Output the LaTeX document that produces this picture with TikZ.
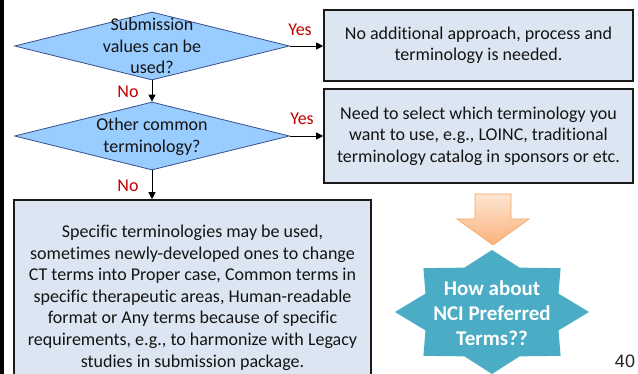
\documentclass[tikz,border=0pt]{standalone}
\usepackage{fontspec}
\setmainfont{Carlito}[Ligatures=NoCommon]
\newfontfamily\pagenumfont{Liberation Sans}
\usetikzlibrary{shapes.geometric,arrows.meta,calc}

\definecolor{decfill}{HTML}{99CCFF}
\definecolor{decline}{HTML}{34508A}
\definecolor{boxfill}{HTML}{DCE6F2}
\definecolor{boxline}{HTML}{1A1A1A}
\definecolor{labred}{HTML}{C00000}
\definecolor{sealfill}{HTML}{4BACC6}
\definecolor{arrtop}{HTML}{FDE5D2}
\definecolor{arrbot}{HTML}{F9B27B}
\definecolor{arrline}{HTML}{F5A865}
\definecolor{txt}{HTML}{141414}

\begin{document}
\begin{tikzpicture}[x=1pt,y=-1pt,
  every node/.style={font=\fontsize{18}{21.6}\selectfont, text=txt},
  decision/.style={diamond, draw=decline, line width=0.8pt, fill=decfill,
    inner sep=0pt, minimum width=275pt, minimum height=68pt},
  qtext/.style={align=center, inner sep=0pt},
  infobox/.style={rectangle, draw=boxline, line width=1.6pt, fill=boxfill,
    align=center, inner sep=0pt},
  answer/.style={text=labred, inner sep=0pt},
  flow/.style={draw=black, line width=0.9pt, -{Triangle[length=7pt,width=7pt]}},
  sealtext/.style={font=\fontsize{21}{25}\selectfont\bfseries, text=white,
    align=center, inner sep=0pt}
]
\useasboundingbox (0,0) rectangle (638,374);
\clip (0,0) rectangle (638,374);
\fill[white] (0,0) rectangle (638,374);

% dark strip along the left edge
\fill[black] (0,0) rectangle (3.5,374);

% decisions
\node[decision] (d1) at (152,46) {};
\node[qtext] (d1t) at (152,46) {Submission\\values can be\\used?};
\node[decision] (d2) at (152,136) {};
\node[qtext] (d2t) at (152,137) {Other common\\terminology?};

% outcome boxes
\node[infobox, minimum width=309pt, minimum height=71pt] (b1) at (478.5,45.5)
  {No additional approach, process and\\terminology is needed.};
\node[infobox, minimum width=309pt, minimum height=94pt] (b2) at (478.5,136)
  {Need to select which terminology you\\want to use, e.g., LOINC, traditional\\terminology catalog in sponsors or etc.};
\node[infobox, minimum width=357pt, minimum height=195pt] (b3) at (192.5,297.5)
  {Specific terminologies may be used,\\sometimes newly-developed ones to change\\CT terms into Proper case, Common terms in\\specific therapeutic areas, Human-readable\\format or Any terms because of specific\\requirements, e.g., to harmonize with Legacy\\studies in submission package.};

% connectors
\draw[flow] (d1.east) -- (d1.east -| b1.west);
\draw[flow] (d2.east) -- (d2.east -| b2.west);
\draw[flow] (d1.south) -- (d2.north);
\draw[flow] (d2.south) -- (d2.south |- b3.north);

\node[answer] (y1) at (300,30) {Yes};
\node[answer] (y2) at (302,119) {Yes};
\node[answer] (n1) at (128,92) {No};
\node[answer] (n2) at (128,186) {No};

% orange block arrow
\shade[top color=arrtop, bottom color=arrbot, draw=arrline, line width=0.7pt]
  (475,194) -- (511,194) -- (511,219) -- (529,219) -- (493,245)
  -- (457,219) -- (475,219) -- cycle;

% eight-point seal
\begin{scope}[shift={(492,312)}]
\fill[sealfill] (90:97 and 62) -- (112.5:72 and 48) -- (135:97 and 62)
  -- (157.5:72 and 48) -- (180:97 and 62) -- (202.5:72 and 48)
  -- (225:97 and 62) -- (247.5:72 and 48) -- (270:97 and 62)
  -- (292.5:72 and 48) -- (315:97 and 62) -- (337.5:72 and 48)
  -- (0:97 and 62) -- (22.5:72 and 48) -- (45:97 and 62)
  -- (67.5:72 and 48) -- cycle;
\end{scope}
\node[sealtext] (seal) at (492,313) {How about\\NCI Preferred\\Terms??};

% page number
\node[font=\pagenumfont\fontsize{18}{21.6}\selectfont, anchor=base, inner sep=0pt,
  text=black!85] (pg) at (625,368) {40};
\end{tikzpicture}
\end{document}
